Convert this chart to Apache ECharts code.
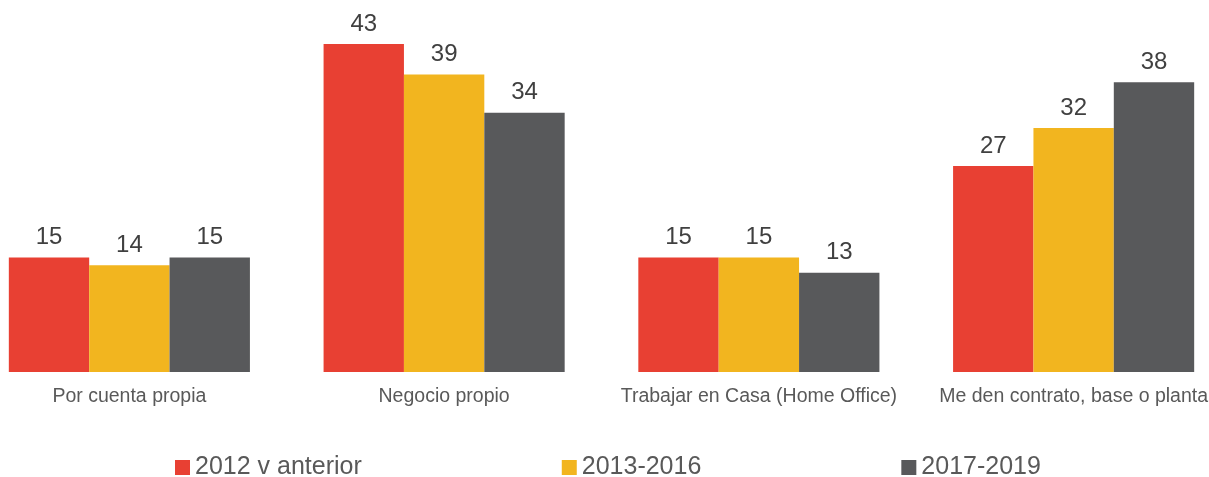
<!DOCTYPE html>
<html>
<head>
<meta charset="utf-8">
<script src="https://cdn.jsdelivr.net/npm/echarts@6/dist/echarts.min.js"></script>
<style>
  html, body { margin: 0; padding: 0; background: #fff; }
  #chart { width: 1209px; height: 477px; }
</style>
</head>
<body>
<div id="chart"></div>
<script>
const categories = ['Por cuenta propia', 'Negocio propio', 'Trabajar en Casa (Home Office)', 'Me den contrato, base o planta'];
const seriesNames = ['2012 v anterior', '2013-2016', '2017-2019'];
const values2012 = [15, 43, 15, 27];
const values2013 = [14, 39, 15, 32];
const values2017 = [15, 34, 13, 38];
const colors = ['#E84033', '#F2B51F', '#58595B'];

const chart = echarts.init(document.getElementById('chart'));
const font = '"Liberation Sans", Arial, Helvetica, sans-serif';

const makeSeries = (name, data, color) => ({
  name,
  type: 'bar',
  data,
  barGap: '0%',
  barCategoryGap: '23.4%',
  itemStyle: { color },
  label: {
    show: true,
    position: 'top',
    distance: 8,
    color: '#404040',
    fontSize: 24,
    fontFamily: font
  }
});

chart.setOption({
  animation: false,
  textStyle: { fontFamily: font },
  grid: { left: -28, right: -22, top: 44, bottom: 105, containLabel: false, outerBoundsMode: 'none' },
  legend: {
    top: 450,
    left: 170,
    itemGap: 200,
    itemWidth: 15,
    itemHeight: 15,
    icon: 'rect',
    textStyle: { fontSize: 25, color: '#595959', fontFamily: font },
    data: seriesNames
  },
  xAxis: {
    type: 'category',
    data: categories,
    axisLine: { show: false },
    axisTick: { show: false },
    axisLabel: { color: '#595959', fontSize: 19.5, margin: 15, fontFamily: font, interval: 0 }
  },
  yAxis: {
    type: 'value',
    min: 0,
    max: 43,
    show: false,
    splitLine: { show: false }
  },
  series: [
    makeSeries(seriesNames[0], values2012, colors[0]),
    makeSeries(seriesNames[1], values2013, colors[1]),
    makeSeries(seriesNames[2], values2017, colors[2])
  ]
});
</script>
</body>
</html>
